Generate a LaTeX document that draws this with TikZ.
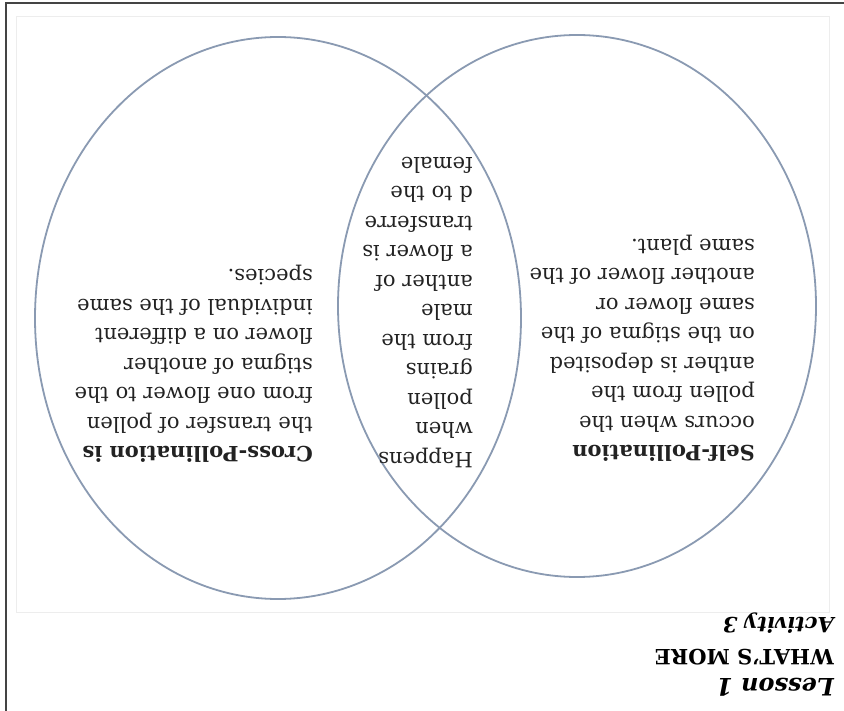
\documentclass[tikz,border=0pt]{standalone}
\usepackage{fontspec}
\setmainfont{DejaVu Serif}
\usepackage{tikz}
\usetikzlibrary{shapes.geometric}
\definecolor{cVenn}{HTML}{8A9AB2}
\definecolor{cInk}{HTML}{222222}
\definecolor{cFrame}{HTML}{444444}
\definecolor{cFaint}{HTML}{EDEDED}

\begin{document}
\begin{tikzpicture}[x=1pt, y=-1pt,
    venn/.style={draw=cVenn, line width=1.8pt, ellipse, inner sep=0pt},
    flipped/.style={rotate=180, anchor=north west, inner sep=0pt, align=left,
      text=cInk, font=\fontsize{21}{29.5}\selectfont},
    heading/.style={rotate=180, anchor=north west, inner sep=0pt,
      text=black, font=\bfseries}]
  \useasboundingbox (0,0) rectangle (844,711);
  \fill[white] (0,0) rectangle (844,711);
  % page edge, only two sides show
  \draw[cFrame, line width=1.6pt] (6,711) -- (6,3) -- (844,3);
  \draw[cFaint, line width=0.8pt] (16,16) rectangle (829,612);
  % the two sets
  \node[venn, minimum width=486pt, minimum height=562pt] (cross) at (278,318) {};
  \node[venn, minimum width=478pt, minimum height=542pt] (self) at (577,306) {};
  % texts, page is upside down
  \node[flipped] (crossTxt) at (313,463)
    {\textbf{Cross-Pollination is}\\the transfer of pollen\\from one flower to the\\stigma of another\\flower on a different\\individual of the same\\species.};
  \node[flipped] (bothTxt) at (473,468)
    {Happens\\when\\pollen\\grains\\from the\\male\\anther of\\a flower is\\transferre\\d to the\\female};
  \node[flipped] (selfTxt) at (755,462)
    {\textbf{Self-Pollination}\\occurs when the\\pollen from the\\anther is deposited\\on the stigma of the\\same flower or\\another flower of the\\same plant.};
  \node[heading] (lesson) at (834,697)
    {\fontsize{24}{24}\selectfont\itshape Lesson 1};
  \node[heading] (whatsMore) at (834,665)
    {\fontsize{21}{21}\selectfont WHAT'S MORE};
  \node[heading] (activity) at (834,634)
    {\fontsize{21}{21}\selectfont\itshape Activity 3};
\end{tikzpicture}
\end{document}
